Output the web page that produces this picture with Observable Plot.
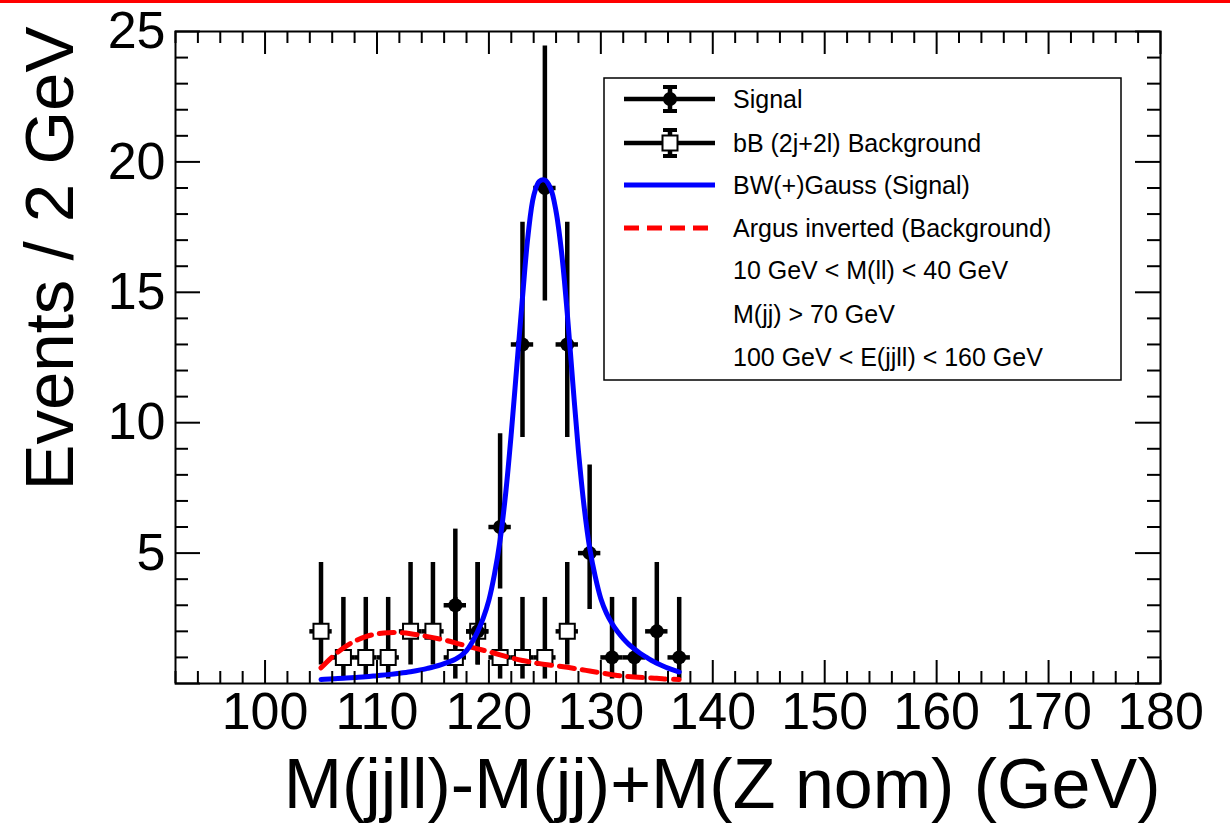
<!DOCTYPE html>
<html><head><meta charset="utf-8">
<script src="https://cdn.jsdelivr.net/npm/d3@7"></script>
<script src="https://cdn.jsdelivr.net/npm/@observablehq/plot@0.6"></script>
<style>
html,body{margin:0;padding:0;background:#fff;}
#wrap{position:relative;width:1230px;height:827px;overflow:hidden;background:#fff;}
#topline{position:absolute;left:0;top:0;width:1230px;height:3px;background:#ff0000;z-index:2;}
#wrap svg{position:absolute;left:0;top:0;}
</style></head><body><div id="wrap"><div id="topline"></div></div>
<script>
// ---- data ----
const sigX  = [117, 119, 121, 123, 125, 127, 129, 131, 133, 135, 137];
const sigY  = [3, 2, 6, 13, 19, 13, 5, 1, 1, 2, 1];
const sigLo = [1.37, 0.71, 3.62, 9.43, 14.67, 9.43, 2.84, 0.17, 0.17, 0.71, 0.17];
const sigHi = [5.92, 4.64, 9.58, 17.69, 24.44, 17.69, 8.38, 3.30, 3.30, 4.64, 3.30];

const bkgX  = [105, 107, 109, 111, 113, 115, 117, 119, 121, 123, 125, 127];
const bkgY  = [2, 1, 1, 1, 2, 2, 1, 2, 1, 1, 1, 2];
const bkgLo = [0.71, 0.17, 0.17, 0.17, 0.71, 0.71, 0.17, 0.71, 0.17, 0.17, 0.17, 0.71];
const bkgHi = [4.64, 3.30, 3.30, 3.30, 4.64, 4.64, 3.30, 4.64, 3.30, 3.30, 3.30, 4.64];

const binHalf = 1; // 2 GeV bins

// BW (+) Gauss signal fit curve
const fitSigX = [105,106,107,108,109,110,111,112,113,114,114.5,115,115.5,116,116.5,117,117.5,118,118.5,119,119.5,120,120.5,121,121.5,122,122.5,123,123.5,124,124.5,125,125.5,126,126.5,127,127.5,128,128.5,129,129.5,130,130.5,131,131.5,132,132.5,133,133.5,134,134.5,135,135.5,136,136.5,137];
const fitSigY = [0.15,0.18,0.20,0.23,0.26,0.30,0.34,0.39,0.45,0.53,0.58,0.63,0.69,0.76,0.84,0.93,1.06,1.26,1.58,2.00,2.52,3.20,4.20,5.50,7.30,9.60,12.2,14.8,17.2,18.7,19.25,19.3,19.0,18.1,16.5,14.2,11.5,8.9,6.8,5.2,4.1,3.25,2.70,2.30,1.98,1.72,1.50,1.32,1.16,1.02,0.89,0.78,0.68,0.59,0.51,0.44];

// Argus inverted background fit curve
const fitBkgX = [105,106,107,108,109,110,111,112,113,114,115,116,117,118,119,120,121,122,123,124,125,126,127,128,129,130,131,132,133,134,135,136,137];
const fitBkgY = [0.60,1.02,1.36,1.62,1.80,1.90,1.95,1.95,1.91,1.84,1.76,1.67,1.56,1.44,1.33,1.22,1.10,0.98,0.88,0.80,0.73,0.68,0.62,0.55,0.48,0.41,0.34,0.28,0.25,0.22,0.20,0.17,0.15];

const xMajor = [100, 110, 120, 130, 140, 150, 160, 170, 180];
const yMajor = [0, 5, 10, 15, 20, 25];
const yLabels = [5, 10, 15, 20, 25];
const xMinor = d3.range(92, 181, 2).filter(v => v % 10 !== 0);
const yMinor = d3.range(0, 26, 1).filter(v => v % 5 !== 0);

const xTitle = "M(jjll)-M(jj)+M(Z nom) (GeV)";
const yTitle = "Events / 2 GeV";

const legendItems = ["Signal", "bB (2j+2l) Background", "BW(+)Gauss (Signal)", "Argus inverted (Background)",
  "10 GeV < M(ll) < 40 GeV", "M(jj) > 70 GeV", "100 GeV < E(jjll) < 160 GeV"];

// ---- tables ----
const sig = sigX.map((x, i) => ({x, y: sigY[i], lo: sigLo[i], hi: sigHi[i]}));
const bkg = bkgX.map((x, i) => ({x, y: bkgY[i], lo: bkgLo[i], hi: bkgHi[i]}));
const fitSig = fitSigX.map((x, i) => ({x, y: fitSigY[i]}));
const fitBkg = fitBkgX.map((x, i) => ({x, y: fitBkgY[i]}));

const W = 1230, H = 827, mL = 175, mR = 70, mT = 31, mB = 144;
const FW = W - mL - mR, FH = H - mT - mB;
const font = "'Liberation Sans', Arial, Helvetica, sans-serif";
const ew = 4.5;

const chart = Plot.plot({
  width: W, height: H,
  marginLeft: mL, marginRight: mR, marginTop: mT, marginBottom: mB,
  x: {domain: [92, 180], axis: null},
  y: {domain: [0, 25], axis: null},
  style: {fontFamily: font, background: "white", color: "black", overflow: "visible"},
  marks: [
    // background data points
    Plot.ruleX(bkg, {x: "x", y1: "lo", y2: "hi", stroke: "black", strokeWidth: ew}),
    Plot.ruleY(bkg, {y: "y", x1: d => d.x - binHalf, x2: d => d.x + binHalf, stroke: "black", strokeWidth: ew}),
    Plot.dot(bkg, {x: "x", y: "y", symbol: "square", r: 8.5, fill: "white", stroke: "black", strokeWidth: 2}),
    // signal data points
    Plot.ruleX(sig, {x: "x", y1: "lo", y2: "hi", stroke: "black", strokeWidth: ew}),
    Plot.ruleY(sig, {y: "y", x1: d => d.x - binHalf, x2: d => d.x + binHalf, stroke: "black", strokeWidth: ew}),
    Plot.dot(sig, {x: "x", y: "y", symbol: "circle", r: 7, fill: "black", stroke: "none"}),
    // fit curves
    Plot.line(fitBkg, {x: "x", y: "y", stroke: "#ff0000", strokeWidth: 5, strokeDasharray: "15,8", curve: "catmull-rom"}),
    Plot.line(fitSig, {x: "x", y: "y", stroke: "#0000ff", strokeWidth: 5, curve: "catmull-rom"}),
    // ticks (inside, mirrored on all sides)
    Plot.tickX(xMajor, {x: d => d, insetTop: FH - 23, stroke: "black", strokeWidth: 2}),
    Plot.tickX(xMinor, {x: d => d, insetTop: FH - 12, stroke: "black", strokeWidth: 2}),
    Plot.tickX(xMajor, {x: d => d, insetBottom: FH - 23, stroke: "black", strokeWidth: 2}),
    Plot.tickX(xMinor, {x: d => d, insetBottom: FH - 12, stroke: "black", strokeWidth: 2}),
    Plot.tickY(yMajor, {y: d => d, insetRight: FW - 25, stroke: "black", strokeWidth: 2}),
    Plot.tickY(yMinor, {y: d => d, insetRight: FW - 13, stroke: "black", strokeWidth: 2}),
    Plot.tickY(yMajor, {y: d => d, insetLeft: FW - 25, stroke: "black", strokeWidth: 2}),
    Plot.tickY(yMinor, {y: d => d, insetLeft: FW - 13, stroke: "black", strokeWidth: 2}),
    Plot.frame({stroke: "black", strokeWidth: 2}),
    // tick labels
    Plot.axisX({ticks: xMajor, tickSize: 0, tickPadding: 9, fontSize: 52, label: null, tickFormat: d => String(d)}),
    Plot.axisY({ticks: yLabels, tickSize: 0, tickPadding: 10, fontSize: 52, label: null, tickFormat: d => String(d)}),
    // axis titles
    Plot.text([xTitle], {text: d => d, frameAnchor: "bottom-right", textAnchor: "end", lineAnchor: "bottom", dy: 124, fontSize: 70, fill: "black"}),
    Plot.text([yTitle], {text: d => d, frameAnchor: "top-left", rotate: -90, textAnchor: "end", lineAnchor: "bottom", dx: -103, dy: -5, fontSize: 69, fill: "black"})
  ]
});

document.getElementById("wrap").appendChild(chart);

// ---- legend (drawn into the same svg) ----
const svg = d3.select(chart);
const lg = svg.append("g").attr("font-family", font).attr("text-anchor", "start");
lg.append("rect").attr("x", 604).attr("y", 78).attr("width", 517).attr("height", 302)
  .attr("fill", "white").attr("stroke", "black").attr("stroke-width", 1.5);
const rowY = [99, 143, 185, 228, 270, 314, 357];
const symX1 = 624, symX2 = 715, symC = 670, textX = 733;
function errSym(y, half) {
  lg.append("line").attr("x1", symX1).attr("x2", symX2).attr("y1", y).attr("y2", y).attr("stroke", "black").attr("stroke-width", ew);
  lg.append("line").attr("x1", symC).attr("x2", symC).attr("y1", y - half).attr("y2", y + half).attr("stroke", "black").attr("stroke-width", ew);
  [y - half + 2, y + half - 2].forEach(cy => lg.append("line").attr("x1", symC - 7).attr("x2", symC + 7).attr("y1", cy).attr("y2", cy).attr("stroke", "black").attr("stroke-width", 4));
}
errSym(rowY[0], 14);
lg.append("circle").attr("cx", symC).attr("cy", rowY[0]).attr("r", 7).attr("fill", "black");
errSym(rowY[1], 15);
lg.append("rect").attr("x", symC - 7.5).attr("y", rowY[1] - 7.5).attr("width", 15).attr("height", 15).attr("fill", "white").attr("stroke", "black").attr("stroke-width", 2);
lg.append("line").attr("x1", symX1).attr("x2", symX2).attr("y1", rowY[2]).attr("y2", rowY[2]).attr("stroke", "#0000ff").attr("stroke-width", 5);
lg.append("line").attr("x1", symX1).attr("x2", symX2).attr("y1", rowY[3]).attr("y2", rowY[3]).attr("stroke", "#ff0000").attr("stroke-width", 5).attr("stroke-dasharray", "15,8");
legendItems.forEach((t, i) => {
  lg.append("text").attr("x", textX).attr("y", rowY[i]).attr("dy", "0.36em").attr("font-size", 25).attr("fill", "black").attr("text-anchor", "start").text(t);
});
</script>
</body></html>
